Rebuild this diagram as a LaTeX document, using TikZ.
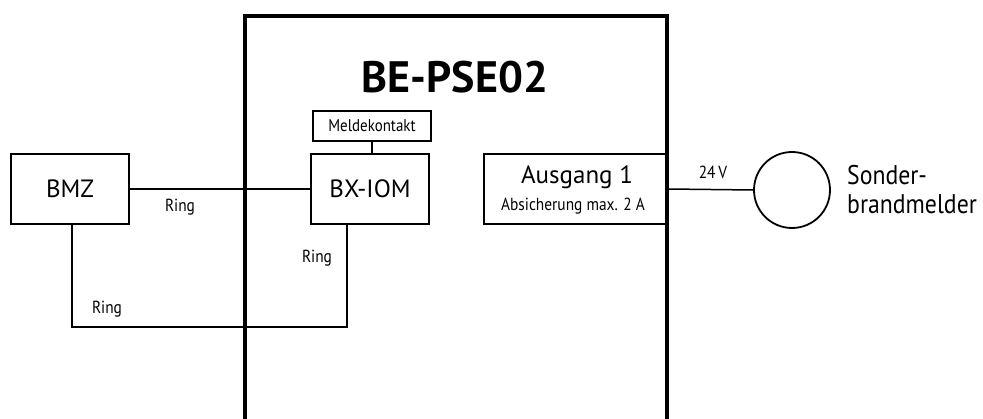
\documentclass[tikz,border=0pt]{standalone}
\usepackage{fontspec}
\setmainfont{PT Sans}
\newfontfamily\narrowfont{PT Sans}[FakeStretch=0.88]
\begin{document}
\begin{tikzpicture}[x=1pt,y=-1pt,
  box/.style={draw,line width=1.8pt,inner sep=0pt,align=center},
  wire/.style={line width=1.5pt},
  lbl/.style={inner sep=0pt,font=\narrowfont\fontsize{17.5}{19}\selectfont},
  big/.style={font=\fontsize{25}{28}\selectfont}]
\useasboundingbox (0,0) rectangle (983,419);
% housing
\coordinate (hbl) at (245,430);
\coordinate (htl) at (245,16);
\coordinate (htr) at (667,16);
\coordinate (hbr) at (667,430);
\draw[line width=4pt] (hbl) -- (htl) -- (htr) -- (hbr);
\node[inner sep=0pt,font=\fontsize{44}{48}\bfseries\selectfont] (title) at (455,77) {BE-PSE02};
% boxes
\node[box,big,minimum width=118pt,minimum height=70pt] (bmz) at (70,189) {BMZ};
\node[box,big,minimum width=118pt,minimum height=70pt] (bx) at (370,189) {BX-IOM};
\node[box,minimum width=118pt,minimum height=30pt,font=\narrowfont\fontsize{17}{19}\selectfont] (mk) at (372,126) {Meldekontakt};
\node[box,minimum width=183pt,minimum height=70pt] (aus) at (575.5,189) {};
\node[inner sep=0pt,font=\fontsize{25}{28}\selectfont] (aust) at (577,177) {Ausgang 1};
\node[inner sep=0pt,font=\narrowfont\fontsize{17.5}{19}\selectfont] (ausu) at (573,206) {Absicherung max. 2 A};
\node[draw,circle,line width=1.8pt,minimum size=76pt,inner sep=0pt] (sbm) at (792,190) {};
\node[inner sep=0pt,anchor=west,align=left,font=\narrowfont\fontsize{27}{29}\selectfont] (sbmtext) at (847,190) {Sonder-\\brandmelder};
% wires
\coordinate (rc) at (200,327);
\draw[wire] (bmz.east) -- (bx.west);
\draw[wire] ([xshift=2pt]bmz.south) |- (rc) -| ([xshift=-23pt]bx.south);
\draw[wire] (mk.south) -- (mk.south |- bx.north);
\draw[wire] (aus.east) -- (sbm.west);
% labels
\node[lbl] (r1) at (180,207) {Ring};
\node[lbl] (r2) at (107,309) {Ring};
\node[lbl] (r3) at (317,258) {Ring};
\node[lbl] (v24) at (713,172) {24\,V};
\end{tikzpicture}
\end{document}
